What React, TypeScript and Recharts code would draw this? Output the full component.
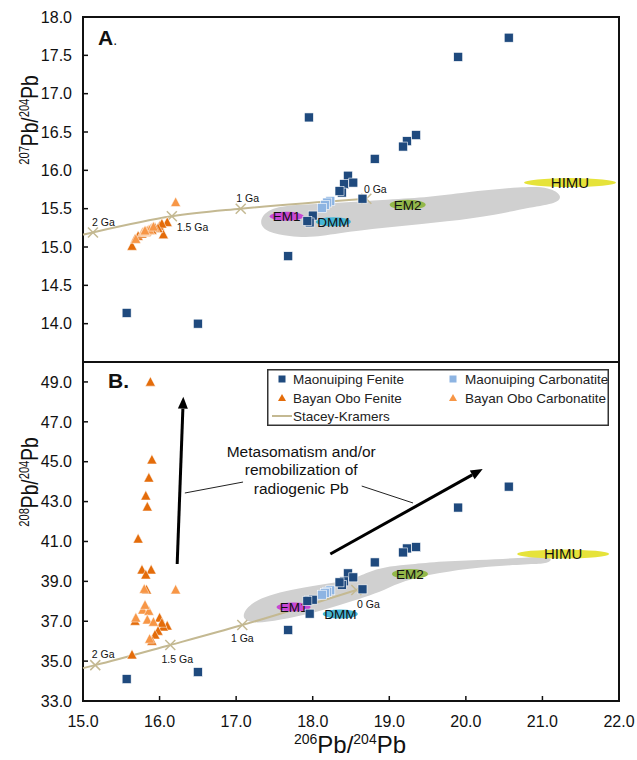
import React from "react";
import {
  ScatterChart,
  Scatter,
  XAxis,
  YAxis,
  ReferenceArea,
  ReferenceLine,
  ReferenceDot,
  Legend,
} from "recharts";

const FONT = "'Liberation Sans', Arial, Helvetica, sans-serif";
const INK = "#111";
const MF_COLOR = "#1f4a7e";
const MC_COLOR = "#8db4e2";
const BF_COLOR = "#e46c0a";
const BC_COLOR = "#f79646";
const SK_COLOR = "#c4b992";
const FIELD_GRAY = "#d0d0d0";

// axes
const xTicks = [15, 16, 17, 18, 19, 20, 21, 22];
const pb207Ticks = [14, 14.5, 15, 15.5, 16, 16.5, 17, 17.5, 18];
const pb208Ticks = [33, 35, 37, 39, 41, 43, 45, 47, 49];

const seriesNames = [
  "Maonuiping Fenite",
  "Maonuiping Carbonatite",
  "Bayan Obo Fenite",
  "Bayan Obo Carbonatite",
  "Stacey-Kramers",
];

// Maonuiping fenite
const mfPb206 = [20.56, 19.9, 17.95, 19.35, 19.23, 19.18, 18.81, 18.46, 18.41, 18.53, 18.38, 18.35, 18.65, 18.0, 17.96, 17.93, 17.68, 15.57, 16.5];
const mfPb207 = [17.73, 17.48, 16.69, 16.46, 16.38, 16.31, 16.15, 15.93, 15.82, 15.84, 15.71, 15.73, 15.63, 15.41, 15.32, 15.34, 14.88, 14.14, 14.0];
const mfPb208 = [43.75, 42.7, 38.05, 40.72, 40.65, 40.45, 39.95, 39.4, 39.0, 39.2, 38.82, 38.95, 38.6, 38.08, 37.38, 38.02, 36.56, 34.1, 34.45];

// Maonuiping carbonatite
const mcPb206 = [18.23, 18.19, 18.16, 18.12];
const mcPb207 = [15.6, 15.58, 15.55, 15.51];
const mcPb208 = [38.55, 38.48, 38.42, 38.33];

// Bayan Obo fenite
const bfPb206 = [15.88, 15.9, 15.86, 15.82, 15.84, 15.72, 15.77, 15.89, 15.82, 15.83, 16.0, 16.1, 16.05, 16.03, 15.98, 15.94, 15.9, 15.68, 15.64];
const bfPb207 = [15.23, 15.24, 15.22, 15.2, 15.21, 15.14, 15.17, 15.23, 15.19, 15.2, 15.27, 15.32, 15.16, 15.3, 15.24, 15.25, 15.22, 15.1, 15.01];
const bfPb208 = [48.99, 45.09, 44.18, 43.28, 42.73, 41.12, 39.57, 39.57, 39.32, 38.57, 37.16, 36.76, 36.71, 36.9, 36.5, 36.31, 36.0, 37.0, 35.31];

// Bayan Obo carbonatite
const bcPb206 = [16.21, 15.69, 15.78, 15.86, 15.84, 15.8, 15.87, 15.92, 15.81];
const bcPb207 = [15.58, 15.1, 15.19, 15.22, 15.21, 15.2, 15.22, 15.26, 15.21];
const bcPb208 = [38.57, 37.16, 37.56, 37.5, 37.06, 38.6, 36.1, 36.95, 37.8];

// mantle reservoirs
const reservoirNames = ["EM1", "DMM", "EM2", "HIMU"];
const resPb206Top = [17.66, 18.27, 19.24, 21.36];
const resPb207 = [15.4, 15.33, 15.55, 15.84];
const resPb206Bottom = [17.75, 18.36, 19.27, 21.27];
const resPb208 = [37.71, 37.36, 39.37, 40.37];

// OIB / MORB field outline
const fieldTopPb206 = [17.29, 17.4, 17.7, 18.23, 19.01, 19.53, 19.96, 20.75, 21.1, 21.26, 21.2, 20.84, 20.41, 19.75, 19.1, 18.45, 18.0, 17.7, 17.4];
const fieldTopPb207 = [15.32, 15.49, 15.55, 15.57, 15.62, 15.65, 15.71, 15.79, 15.78, 15.67, 15.57, 15.52, 15.42, 15.33, 15.27, 15.2, 15.12, 15.14, 15.19];
const fieldBotPb206 = [17.05, 17.18, 17.44, 17.7, 18.07, 18.51, 18.72, 18.94, 19.21, 19.53, 20.18, 20.71, 21.06, 21.14, 21.03, 20.84, 20.18, 19.62, 19.18, 18.94, 18.68, 18.36, 18.0, 17.57, 17.22];
const fieldBotPb208 = [37.16, 37.91, 38.31, 38.57, 38.82, 39.07, 39.47, 39.72, 39.82, 39.97, 40.07, 40.17, 40.27, 40.07, 39.87, 39.87, 39.72, 39.42, 39.02, 38.57, 38.21, 37.81, 37.41, 37.06, 36.86];

// Stacey-Kramers growth curve
const skLabels = ["", "2 Ga", "1.5 Ga", "1 Ga", "0 Ga"];
const skPb206Top = [15.0, 15.13, 16.16, 17.06, 18.7];
const skPb207 = [15.16, 15.19, 15.4, 15.5, 15.63];
const skPb206Bottom = [15.0, 15.16, 16.14, 17.08, 18.57];
const skPb208 = [34.65, 34.8, 35.81, 36.81, 38.57];

// annotation (panel B)
const noteLines = ["Metasomatism and/or", "remobilization of", "radiogenic Pb"];
const notePos = { x: 17.85, y: 44.58 };
const trendArrows = [
  [{ x: 16.23, y: 39.87 }, { x: 16.31, y: 48.26 }],
  [{ x: 18.23, y: 40.37 }, { x: 20.22, y: 44.63 }],
];
const leaderLines = [
  [{ x: 16.33, y: 43.43 }, { x: 17.09, y: 43.98 }],
  [{ x: 18.64, y: 43.78 }, { x: 19.31, y: 42.93 }],
];

const zip = (xs: number[], ys: number[]) => xs.map((x, i) => ({ x, y: ys[i] }));

const reservoirStyle: Record<string, { fill: string; rx: number; ry: number; fs: number }> = {
  EM1: { fill: "#c847d3", rx: 17, ry: 4.5, fs: 13.5 },
  DMM: { fill: "#45b6d6", rx: 17.5, ry: 4.5, fs: 13.5 },
  EM2: { fill: "#93b84a", rx: 18, ry: 5, fs: 13.5 },
  HIMU: { fill: "#e6e33a", rx: 46, ry: 4.5, fs: 15 },
};

const skOffsetsTop: Record<string, [number, number, string]> = {
  "2 Ga": [-1, -6, "start"],
  "1.5 Ga": [5, 15, "start"],
  "1 Ga": [7, -7, "middle"],
  "0 Ga": [9, -6, "middle"],
};
const skOffsetsBottom: Record<string, [number, number, string]> = {
  "2 Ga": [8, -7, "middle"],
  "1.5 Ga": [7, 18, "middle"],
  "1 Ga": [0, 17, "middle"],
  "0 Ga": [12, 18, "middle"],
};

const squareShape = (fill: string) => (p: any) => (
  <rect x={p.cx - 4.5} y={p.cy - 4.5} width={9} height={9} fill={fill} stroke="#fff" strokeWidth={0.6} />
);
const triangleShape = (fill: string) => (p: any) => (
  <polygon
    points={`${p.cx},${p.cy - 5.5} ${p.cx + 5},${p.cy + 4} ${p.cx - 5},${p.cy + 4}`}
    fill={fill}
    stroke="#fff"
    strokeWidth={0.5}
  />
);
const noShape = () => <g />;

const reservoirShape = (p: any) => {
  const s = reservoirStyle[p.payload.name];
  return (
    <g>
      <ellipse cx={p.cx} cy={p.cy} rx={s.rx} ry={s.ry} fill={s.fill} />
      <text x={p.cx} y={p.cy + s.fs * 0.36} textAnchor="middle" fontSize={s.fs} fontFamily={FONT} fill={INK}>
        {p.payload.name}
      </text>
    </g>
  );
};

const skShape = (offsets: Record<string, [number, number, string]>) => (p: any) => {
  const label = p.payload.label;
  if (!label) return <g />;
  const [dx, dy, anchor] = offsets[label];
  const r = 5;
  return (
    <g>
      <line x1={p.cx - r} y1={p.cy - r} x2={p.cx + r} y2={p.cy + r} stroke={SK_COLOR} strokeWidth={1.5} />
      <line x1={p.cx - r} y1={p.cy + r} x2={p.cx + r} y2={p.cy - r} stroke={SK_COLOR} strokeWidth={1.5} />
      <text x={p.cx + dx} y={p.cy + dy} textAnchor={anchor as any} fontSize={10.5} fontFamily={FONT} fill={INK}>
        {label}
      </text>
    </g>
  );
};

const arrowShape = (p: any) => {
  const { x1, y1, x2, y2 } = p;
  const ang = Math.atan2(y2 - y1, x2 - x1);
  const len = 12;
  const half = 5;
  const bx = x2 - len * Math.cos(ang);
  const by = y2 - len * Math.sin(ang);
  const px = -Math.sin(ang) * half;
  const py = Math.cos(ang) * half;
  return (
    <g>
      <line x1={x1} y1={y1} x2={bx} y2={by} stroke="#000" strokeWidth={3} />
      <polygon points={`${x2},${y2} ${bx + px},${by + py} ${bx - px},${by - py}`} fill="#000" />
    </g>
  );
};

const noteShape = (p: any) => (
  <text x={p.cx} y={p.cy} textAnchor="middle" fontSize={15.5} fontFamily={FONT} fill={INK}>
    {noteLines.map((t, i) => (
      <tspan key={i} x={p.cx} dy={i === 0 ? -13.5 : 18.5}>
        {t}
      </tspan>
    ))}
  </text>
);

const AxisTitle = ({ px, py, sup, vertical }: any) => (
  <g transform={vertical ? `translate(${px},${py}) rotate(-90) scale(0.8,1)` : `translate(${px},${py})`}>
    <text x={0} y={0} textAnchor="middle" fontFamily={FONT} fill={INK}>
      <tspan fontSize={14} dy={-9}>{sup}</tspan>
      <tspan fontSize={24} dy={9}>Pb/</tspan>
      <tspan fontSize={14} dy={-9}>204</tspan>
      <tspan fontSize={24} dy={9}>Pb</tspan>
    </text>
  </g>
);

const LegendBox = () => {
  const fs = 13.5;
  const t = (x: number, y: number, s: string) => (
    <text x={x} y={y + 4.8} fontSize={fs} fontFamily={FONT} fill="#222">
      {s}
    </text>
  );
  const tri = (x: number, y: number, c: string) => (
    <polygon points={`${x},${y - 4} ${x + 4},${y + 3} ${x - 4},${y + 3}`} fill={c} />
  );
  return (
    <svg width={342} height={57} style={{ display: "block" }}>
      <rect x={0.75} y={0.75} width={340.5} height={55.5} fill="#fff" stroke="#333" strokeWidth={1.5} />
      <rect x={11.5} y={6.5} width={7} height={7} fill={MF_COLOR} />
      {t(26, 10, seriesNames[0])}
      <rect x={182.5} y={6.5} width={7} height={7} fill={MC_COLOR} />
      {t(198, 10, seriesNames[1])}
      {tri(15, 29, BF_COLOR)}
      {t(26, 29, seriesNames[2])}
      {tri(186, 29, BC_COLOR)}
      {t(198, 29, seriesNames[3])}
      <line x1={5} y1={47} x2={25} y2={47} stroke={SK_COLOR} strokeWidth={2} />
      {t(26, 47, seriesNames[4])}
    </svg>
  );
};

const tickStyle = { fontSize: 16, fill: INK, fontFamily: FONT };
const tickLineStyle = { stroke: INK, strokeWidth: 1.5 };
const fmt = (v: number) => v.toFixed(1);

export default function App() {
  const fieldTop = zip(fieldTopPb206, fieldTopPb207);
  const fieldBot = zip(fieldBotPb206, fieldBotPb208);
  const skTop = skPb206Top.map((x, i) => ({ x, y: skPb207[i], label: skLabels[i] }));
  const skBot = skPb206Bottom.map((x, i) => ({ x, y: skPb208[i], label: skLabels[i] }));
  const resTop = reservoirNames.map((name, i) => ({ x: resPb206Top[i], y: resPb207[i], name }));
  const resBot = reservoirNames.map((name, i) => ({ x: resPb206Bottom[i], y: resPb208[i], name }));

  return (
    <div style={{ position: "absolute", left: 0, top: 0, width: 637, height: 760, background: "#fff", fontFamily: FONT }}>
      <div style={{ position: "absolute", left: 0, top: 0 }}>
        <ScatterChart width={637} height={364} margin={{ top: 17, right: 18, bottom: 2, left: 0 }}>
          <XAxis
            dataKey="x"
            type="number"
            domain={[15, 22]}
            ticks={xTicks}
            height={0}
            axisLine={false}
            tickSize={-5}
            tickLine={tickLineStyle}
            tickFormatter={() => ""}
          />
          <YAxis
            dataKey="y"
            type="number"
            domain={[13.5, 18]}
            ticks={pb207Ticks}
            width={83}
            axisLine={false}
            tickSize={-5}
            tickMargin={16}
            tickLine={tickLineStyle}
            tick={tickStyle}
            tickFormatter={fmt}
            label={<AxisTitle px={38} py={120} sup="207" vertical />}
          />
          <Scatter data={fieldTop} line={{ fill: FIELD_GRAY, stroke: "none" }} lineJointType="basisClosed" shape={noShape} isAnimationActive={false} />
          <Scatter data={skTop} line={{ stroke: SK_COLOR, strokeWidth: 2 }} lineJointType="monotoneX" shape={skShape(skOffsetsTop)} isAnimationActive={false} />
          <Scatter data={resTop} shape={reservoirShape} isAnimationActive={false} />
          <Scatter name={seriesNames[1]} data={zip(mcPb206, mcPb207)} fill={MC_COLOR} shape={squareShape(MC_COLOR)} isAnimationActive={false} />
          <Scatter name={seriesNames[0]} data={zip(mfPb206, mfPb207)} fill={MF_COLOR} shape={squareShape(MF_COLOR)} isAnimationActive={false} />
          <Scatter name={seriesNames[2]} data={zip(bfPb206, bfPb207)} fill={BF_COLOR} shape={triangleShape(BF_COLOR)} isAnimationActive={false} />
          <Scatter name={seriesNames[3]} data={zip(bcPb206, bcPb207)} fill={BC_COLOR} shape={triangleShape(BC_COLOR)} isAnimationActive={false} />
          <ReferenceArea x1={15} x2={22} y1={13.5} y2={18} fill="none" stroke={INK} strokeWidth={2} />
        </ScatterChart>
      </div>

      <div style={{ position: "absolute", left: 0, top: 360 }}>
        <ScatterChart width={637} height={400} margin={{ top: 2, right: 18, bottom: 0, left: 0 }}>
          <XAxis
            dataKey="x"
            type="number"
            domain={[15, 22]}
            ticks={xTicks}
            height={59}
            axisLine={false}
            tickSize={-5}
            tickMargin={20}
            tickLine={tickLineStyle}
            tick={tickStyle}
            tickFormatter={fmt}
            label={<AxisTitle px={350} py={393} sup="206" />}
          />
          <YAxis
            dataKey="y"
            type="number"
            domain={[33, 50]}
            ticks={pb208Ticks}
            width={83}
            axisLine={false}
            tickSize={-5}
            tickMargin={16}
            tickLine={tickLineStyle}
            tick={tickStyle}
            tickFormatter={fmt}
            label={<AxisTitle px={38} py={122} sup="208" vertical />}
          />
          <Scatter data={fieldBot} line={{ fill: FIELD_GRAY, stroke: "none" }} lineJointType="basisClosed" shape={noShape} isAnimationActive={false} />
          <Scatter data={skBot} line={{ stroke: SK_COLOR, strokeWidth: 2 }} lineJointType="monotoneX" shape={skShape(skOffsetsBottom)} isAnimationActive={false} />
          <Scatter data={resBot} shape={reservoirShape} isAnimationActive={false} />
          <Scatter name={seriesNames[1]} data={zip(mcPb206, mcPb208)} fill={MC_COLOR} shape={squareShape(MC_COLOR)} isAnimationActive={false} />
          <Scatter name={seriesNames[0]} data={zip(mfPb206, mfPb208)} fill={MF_COLOR} shape={squareShape(MF_COLOR)} isAnimationActive={false} />
          <Scatter name={seriesNames[2]} data={zip(bfPb206, bfPb208)} fill={BF_COLOR} shape={triangleShape(BF_COLOR)} isAnimationActive={false} />
          <Scatter name={seriesNames[3]} data={zip(bcPb206, bcPb208)} fill={BC_COLOR} shape={triangleShape(BC_COLOR)} isAnimationActive={false} />
          {trendArrows.map((seg, i) => (
            <ReferenceLine key={`a${i}`} segment={seg} shape={arrowShape} />
          ))}
          {leaderLines.map((seg, i) => (
            <ReferenceLine key={`l${i}`} segment={seg} stroke="#222" strokeWidth={1} />
          ))}
          <ReferenceDot x={notePos.x} y={notePos.y} shape={noteShape} />
          <ReferenceArea x1={15} x2={22} y1={33} y2={50} fill="none" stroke={INK} strokeWidth={2} />
          <Legend
            layout="vertical"
            align="center"
            verticalAlign="middle"
            content={() => <LegendBox />}
            wrapperStyle={{ left: 267, top: 9, width: 342, height: 57 }}
          />
        </ScatterChart>
      </div>

      <svg width={637} height={760} style={{ position: "absolute", left: 0, top: 0, pointerEvents: "none" }}>
        <text x={98} y={45} fontFamily={FONT} fill={INK}>
          <tspan fontSize={21} fontWeight="bold">A</tspan>
          <tspan fontSize={14}>.</tspan>
        </text>
        <text x={108} y={388} fontFamily={FONT} fill={INK} fontSize={21} fontWeight="bold">
          B.
        </text>
      </svg>
    </div>
  );
}
